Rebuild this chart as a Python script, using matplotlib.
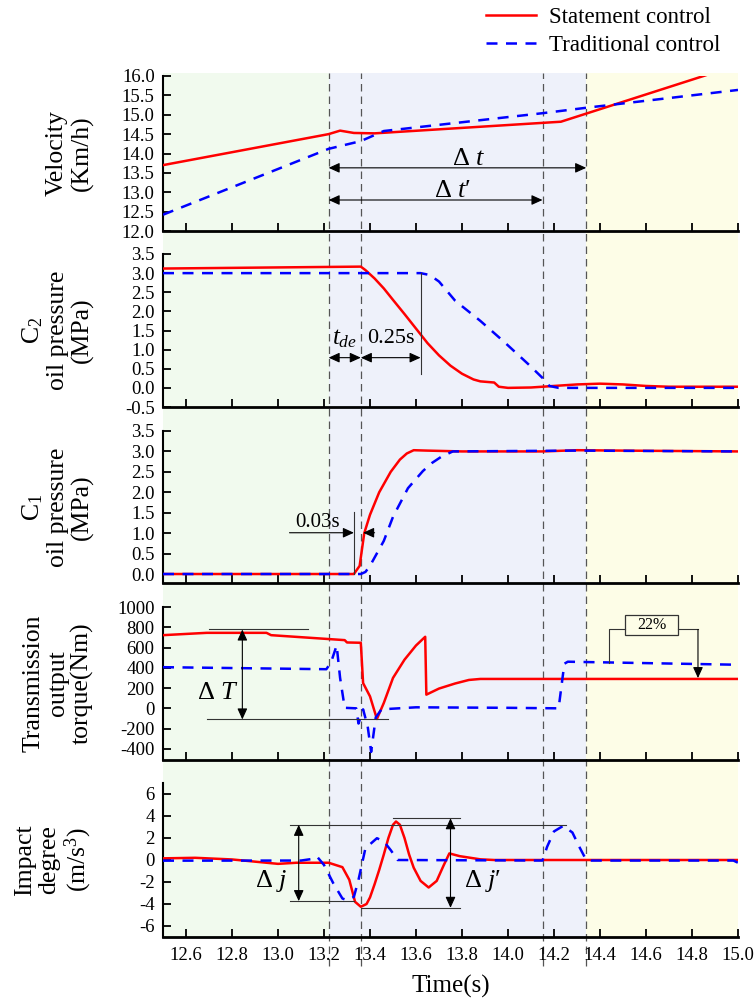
import numpy as np
import matplotlib
matplotlib.use('Agg')
import matplotlib.pyplot as plt
from matplotlib.patches import Rectangle, ArrowStyle
from matplotlib.lines import Line2D
from matplotlib import transforms
from matplotlib.ticker import FormatStrFormatter

plt.rcParams['font.family'] = ['Liberation Serif', 'DejaVu Serif']
plt.rcParams['mathtext.fontset'] = 'custom'
plt.rcParams['mathtext.rm'] = 'Liberation Serif'
plt.rcParams['mathtext.it'] = 'Liberation Serif:italic'
plt.rcParams['mathtext.bf'] = 'Liberation Serif:bold'
plt.rcParams['axes.unicode_minus'] = False

# ---------------- data ----------------
series_names = ['Statement control', 'Traditional control']

vel_red_t = [12.5, 13.22, 13.27, 13.33, 13.42, 14.23, 14.85, 15.0]
vel_red_v = [13.70, 14.50, 14.59, 14.53, 14.52, 14.82, 16.0, 16.3]
vel_blue_t = [12.5, 13.22, 13.36, 13.46, 14.15, 14.34, 15.0]
vel_blue_v = [12.42, 14.12, 14.32, 14.58, 15.04, 15.18, 15.64]

c2_red_t = [12.5, 13.36, 13.38, 13.42, 13.46, 13.50, 13.55, 13.60, 13.65, 13.70, 13.75,
            13.80, 13.85, 13.88, 13.94, 13.96, 14.0, 14.1, 14.2, 14.3, 14.4, 14.5, 14.6, 14.7, 15.0]
c2_red_v = [3.12, 3.17, 3.08, 2.86, 2.60, 2.30, 1.93, 1.55, 1.17, 0.85, 0.58,
            0.37, 0.22, 0.17, 0.14, 0.03, 0.0, 0.01, 0.05, 0.09, 0.11, 0.09, 0.05, 0.03, 0.03]
c2_blue_t = [12.5, 13.62, 13.66, 13.70, 13.77, 13.88, 13.98, 14.09, 14.15, 14.18, 14.22, 15.0]
c2_blue_v = [3.0, 3.0, 2.95, 2.78, 2.28, 1.75, 1.22, 0.61, 0.26, 0.05, 0.0, 0.0]

c1_red_t = [12.5, 13.33, 13.355, 13.375, 13.40, 13.44, 13.49, 13.53, 13.56, 13.59, 13.65,
            13.8, 14.15, 14.3, 14.5, 15.0]
c1_red_v = [0.0, 0.0, 0.2, 1.0, 1.45, 2.0, 2.5, 2.8, 2.95, 3.03, 3.02,
            3.0, 3.0, 3.03, 3.02, 3.0]
c1_blue_t = [12.5, 13.36, 13.38, 13.40, 13.46, 13.50, 13.565, 13.63, 13.67, 13.71, 13.76, 14.3, 15.0]
c1_blue_v = [0.0, 0.0, 0.05, 0.2, 0.81, 1.4, 2.1, 2.52, 2.72, 2.87, 3.0, 3.02, 3.0]

tq_red_t = [12.5, 12.69, 12.95, 12.97, 13.29, 13.30, 13.36, 13.37, 13.40, 13.43, 13.46,
            13.50, 13.55, 13.60, 13.64, 13.645, 13.70, 13.77, 13.83, 13.88, 15.0]
tq_red_v = [722, 745, 745, 722, 673, 650, 647, 249, 118, -105, 53,
            300, 480, 620, 706, 135, 195, 245, 280, 290, 290]
tq_blue_t = [12.5, 13.21, 13.23, 13.255, 13.27, 13.29, 13.34, 13.35, 13.37, 13.39, 13.405,
             13.425, 13.45, 13.6, 14.0, 14.22, 14.245, 14.26, 15.0]
tq_blue_v = [406, 386, 450, 620, 300, 5, 0, -150, -10, -180, -430,
             -90, -10, 10, 5, 0, 440, 460, 430]

imp_red_t = [12.5, 12.64, 12.8, 13.0, 13.08, 13.22, 13.28, 13.31, 13.335, 13.36, 13.385,
             13.40, 13.42, 13.44, 13.46, 13.48, 13.50, 13.513, 13.53, 13.55, 13.57, 13.59,
             13.62, 13.655, 13.69, 13.72, 13.745, 13.79, 13.88, 13.94, 15.0]
imp_red_v = [0.15, 0.2, 0.05, -0.35, -0.25, -0.25, -0.65, -1.8, -3.8, -4.25, -4.0,
             -3.4, -2.2, -0.9, 0.5, 2.0, 3.2, 3.5, 3.2, 2.0, 0.5, -0.7,
             -1.9, -2.5, -1.9, -0.5, 0.6, 0.35, 0.06, 0.0, 0.0]
imp_blue_t = [12.5, 13.10, 13.15, 13.17, 13.20, 13.24, 13.28, 13.30, 13.33, 13.35, 13.38,
              13.43, 13.46, 13.49, 13.52, 14.15, 14.17, 14.20, 14.24, 14.28, 14.31, 14.34,
              14.36, 14.98, 15.0]
imp_blue_v = [-0.06, -0.05, 0.1, 0.3, -0.45, -2.1, -3.5, -3.65, -3.35, -1.8, 1.06,
              1.98, 1.7, 0.9, 0.0, -0.05, 1.2, 2.6, 3.1, 2.5, 1.2, 0.0,
              -0.05, -0.05, -0.25]

x_ticks = [12.6, 12.8, 13.0, 13.2, 13.4, 13.6, 13.8, 14.0, 14.2, 14.4, 14.6, 14.8, 15.0]
phase_bounds = [12.5, 13.22, 14.34, 15.0]
marker_times = [13.22, 13.36, 14.15, 14.34]

ylabels = ['Velocity\n(Km/h)', 'C$_2$\noil pressure\n(MPa)', 'C$_1$\noil pressure\n(MPa)',
           'Transmission\noutput\ntorque(Nm)', 'Impact\ndegree\n(m/s$^3$)']

# ---------------- style ----------------
RED = '#FF0000'
BLUE = '#0000FF'
phase_colors = ['#F1FAEE', '#EEF1FA', '#FDFDE7']
LW = 1.8
DASH = (4.4, 3.4)

fig = plt.figure(figsize=(7.54, 10), dpi=100)
FW, FH = 754.0, 1000.0
L = 163 / FW
W = 575 / FW
panels_px = [(76, 231), (254, 407), (431, 583), (607, 760), (783, 937)]
ylims = [(12.0, 16.0), (-0.5, 3.5), (-0.22, 3.5), (-510, 1000), (-7, 7)]
yticks = [np.arange(12.0, 16.01, 0.5), np.arange(-0.5, 3.51, 0.5), np.arange(0.0, 3.51, 0.5),
          np.arange(-400, 1001, 200), np.arange(-6, 7, 2)]
yfmts = ['%.1f', '%.1f', '%.1f', '%d', '%d']
label_spacing = [1.2, 1.12, 1.12, 1.12, 1.12]
data = [(vel_red_t, vel_red_v, vel_blue_t, vel_blue_v),
        (c2_red_t, c2_red_v, c2_blue_t, c2_blue_v),
        (c1_red_t, c1_red_v, c1_blue_t, c1_blue_v),
        (tq_red_t, tq_red_v, tq_blue_t, tq_blue_v),
        (imp_red_t, imp_red_v, imp_blue_t, imp_blue_v)]

axes = []
for i, (top, bot) in enumerate(panels_px):
    ax = fig.add_axes([L, 1 - bot / FH, W, (bot - top) / FH])
    ax.patch.set_visible(False)
    rt, rv, bt, bv = data[i]
    lr, = ax.plot(rt, rv, color=RED, lw=LW, solid_joinstyle='round', zorder=3)
    lb, = ax.plot(bt, bv, color=BLUE, lw=LW, dashes=DASH, zorder=4)
    if i == 0:
        leg_handles = [lr, lb]
    ax.set_xlim(12.5, 15.0)
    ax.set_ylim(*ylims[i])
    ax.set_xticks(x_ticks)
    ax.set_yticks(yticks[i])
    ax.yaxis.set_major_formatter(FormatStrFormatter(yfmts[i]))
    for s in ['top', 'right']:
        ax.spines[s].set_visible(False)
    ax.spines['bottom'].set_linewidth(2.0)
    ax.spines['left'].set_linewidth(1.5)
    ax.tick_params(axis='both', direction='in', length=5.5, width=1.3, labelsize=13.5, pad=6)
    ax.tick_params(axis='x', labelbottom=(i == 4), pad=7)
    ax.set_ylabel(ylabels[i], fontsize=18.5, linespacing=label_spacing[i])
    ax.yaxis.set_label_coords(-0.12, 0.5)
    axes.append(ax)

ax1, ax2, ax3, ax4, ax5 = axes
ax5.set_xlabel('Time(s)', fontsize=18)
ax5.xaxis.set_label_coords(0.5, -0.245)

# background phases + dashed marker lines spanning all panels
bt_tr = transforms.blended_transform_factory(ax5.transData, fig.transFigure)
y_top = 1 - 73 / FH
y_bot = 1 - 937 / FH
for k in range(3):
    r = Rectangle((phase_bounds[k], y_bot), phase_bounds[k + 1] - phase_bounds[k], y_top - y_bot,
                  transform=bt_tr, facecolor=phase_colors[k], edgecolor='none', zorder=-10)
    fig.add_artist(r)
for xm in marker_times:
    ln = Line2D([xm, xm], [1 - 966 / FH, y_top], transform=bt_tr, color='#555555', lw=0.9,
                dashes=(6, 4), zorder=-5)
    fig.add_artist(ln)

# legend
fig.legend(leg_handles, series_names, loc='upper left', bbox_to_anchor=(486 / FW, 1 - 7 / FH),
           frameon=False, fontsize=16.5, handlelength=2.2, handletextpad=0.55,
           labelspacing=0.3, borderpad=0, borderaxespad=0)

AST = ArrowStyle('<|-|>', head_length=0.55, head_width=0.25)
AS1 = ArrowStyle('-|>', head_length=0.55, head_width=0.25)


def darrow(ax, p1, p2):
    ax.annotate('', xy=p2, xytext=p1,
                arrowprops=dict(arrowstyle=AST, color='black', lw=0.8, mutation_scale=12,
                                shrinkA=0, shrinkB=0), zorder=6)


def sarrow(ax, p1, p2):
    ax.annotate('', xy=p2, xytext=p1,
                arrowprops=dict(arrowstyle=AS1, color='black', lw=0.8, mutation_scale=12,
                                shrinkA=0, shrinkB=0), zorder=6)


def hline(ax, x1, x2, y):
    ax.plot([x1, x2], [y, y], color='#333333', lw=0.8, zorder=5)


def vline(ax, x, y1, y2):
    ax.plot([x, x], [y1, y2], color='#333333', lw=0.8, zorder=5)


# panel 1
darrow(ax1, (13.22, 13.63), (14.34, 13.63))
darrow(ax1, (13.22, 12.80), (14.15, 12.80))
ax1.text(13.83, 13.85, r'$\Delta\ t$', fontsize=19, ha='center', va='center')
ax1.text(13.76, 13.03, r"$\Delta\ t\prime$", fontsize=19, ha='center', va='center')

# panel 2
vline(ax2, 13.62, 3.0, 0.35)
darrow(ax2, (13.22, 0.79), (13.36, 0.79))
darrow(ax2, (13.36, 0.79), (13.62, 0.79))
ax2.text(13.29, 1.28, r'$t_{de}$', fontsize=18, ha='center', va='center')
ax2.text(13.49, 1.28, '0.25s', fontsize=16, ha='center', va='center')

# panel 3
vline(ax3, 13.33, 1.52, 0.0)
sarrow(ax3, (13.05, 1.01), (13.33, 1.01))
sarrow(ax3, (13.42, 1.01), (13.37, 1.01))
ax3.text(13.17, 1.03, '0.03s', fontsize=15, ha='center', va='bottom')

# panel 4
hline(ax4, 12.70, 13.13, 778)
hline(ax4, 12.69, 13.48, -110)
darrow(ax4, (12.845, 778), (12.845, -110))
ax4.text(12.74, 150, r'$\Delta\ T$', fontsize=19, ha='center', va='center')
ax4.add_patch(Rectangle((14.51, 722), 0.23, 196, fill=False, edgecolor='#333333', lw=0.9, zorder=6))
ax4.text(14.625, 820, '22%', fontsize=11.5, ha='center', va='center')
ax4.plot([14.51, 14.44, 14.44], [778, 778, 450], color='#333333', lw=0.8, zorder=5)
ax4.plot([14.74, 14.826], [778, 778], color='#333333', lw=0.8, zorder=5)
sarrow(ax4, (14.826, 778), (14.826, 298))

# panel 5
hline(ax5, 13.05, 14.25, 3.2)
hline(ax5, 13.50, 13.79, 3.8)
hline(ax5, 13.05, 13.33, -3.74)
hline(ax5, 13.36, 13.79, -4.35)
darrow(ax5, (13.09, 3.2), (13.09, -3.74))
darrow(ax5, (13.75, 3.8), (13.75, -4.35))
ax5.text(12.97, -1.9, r'$\Delta\ j$', fontsize=19, ha='center', va='center')
ax5.text(13.89, -1.9, r"$\Delta\ j\prime$", fontsize=19, ha='center', va='center')

fig.savefig('out.png', dpi=100)
